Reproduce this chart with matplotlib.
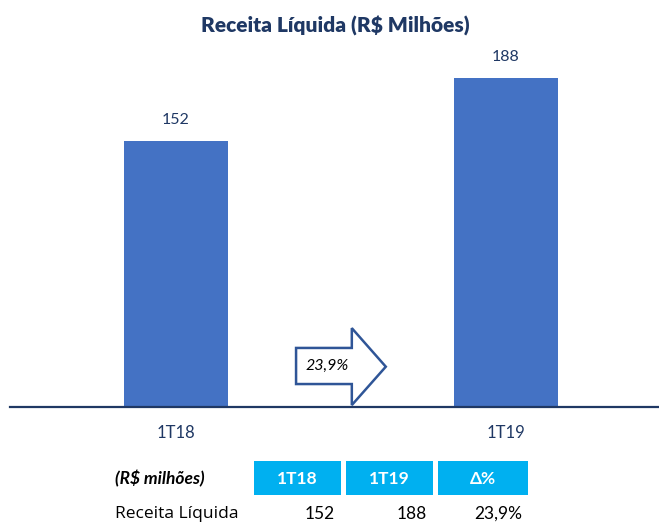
import matplotlib
matplotlib.use("Agg")
import matplotlib.pyplot as plt
from matplotlib.patches import Polygon, Rectangle

periods = ["1T18", "1T19"]
receita = [152, 188]
variacao = "23,9%"
header = ["1T18", "1T19", "Δ%"]
row_label = "Receita Líquida"
row_values = ["152", "188", "23,9%"]

navy = "#1F3864"
bar_color = "#4472C4"
cyan = "#00B0F0"
plt.rcParams['font.family'] = ['Lato', 'DejaVu Sans']

W, H = 659, 523
fig = plt.figure(figsize=(W / 100, H / 100), dpi=100)

# axes: x 10..659 px, y 60..407 px
ax = fig.add_axes([10 / W, 1 - 407 / H, 649 / W, 347 / H])
x = [0, 1]
ax.bar(x, receita, width=0.315, color=bar_color)
ax.set_xlim(-0.503, 1.464)
ax.set_ylim(0, 198)
for xi, v in zip(x, receita):
    ax.text(xi, v + 8, str(v), ha="center", va="bottom", fontsize=11.5, color=navy)
for xi, p in zip(x, periods):
    ax.text(xi, -15, p, ha="center", va="center", fontsize=12, color=navy)
for s in ["top", "right", "left"]:
    ax.spines[s].set_visible(False)
ax.spines["bottom"].set_color(navy)
ax.spines["bottom"].set_linewidth(1.6)
ax.set_xticks([])
ax.set_yticks([])

# growth arrow
x0, x1, xh = 0.364, 0.636, 0.533
arrow = Polygon([(x0, 13.1), (xh, 13.1), (xh, 1.1), (x1, 23), (xh, 45),
                 (xh, 33.7), (x0, 33.7)], closed=True, facecolor="white",
                edgecolor="#2F5597", linewidth=1.8, clip_on=False)
ax.add_patch(arrow)
ax.text((x0 + xh) / 2 + 0.01, 23.4, variacao, ha="center", va="center",
        fontsize=11.5, style="italic", color="black")

fig.text(335 / W, 1 - 26 / H, "Receita Líquida (R$ Milhões)", ha="center",
         va="center", fontsize=15, fontweight="heavy", color=navy)

# table
cells = [(254, 341), (346, 433), (438, 528)]
for (l, r), h in zip(cells, header):
    fig.patches.append(Rectangle((l / W, 1 - 495 / H), (r - l) / W, 34 / H,
                                 transform=fig.transFigure, facecolor=cyan,
                                 edgecolor="none"))
    fig.text((l + r) / 2 / W, 1 - 479 / H, h, ha="center", va="center",
             fontsize=12.5, fontweight="bold", color="white")
fig.text(115 / W, 1 - 479 / H, "(R$ milhões)", ha="left", va="center",
         fontsize=12.5, fontweight="bold", style="italic", color="black")
fig.text(115 / W, 1 - 514 / H, row_label, ha="left", va="center",
         fontsize=12.5, color="black", family=["Open Sans", "DejaVu Sans"])
for (l, r), v in zip(cells, row_values):
    fig.text((r - 6) / W, 1 - 514 / H, v, ha="right", va="center",
             fontsize=12.5, color="black")

fig.savefig("out.png", dpi=100)
